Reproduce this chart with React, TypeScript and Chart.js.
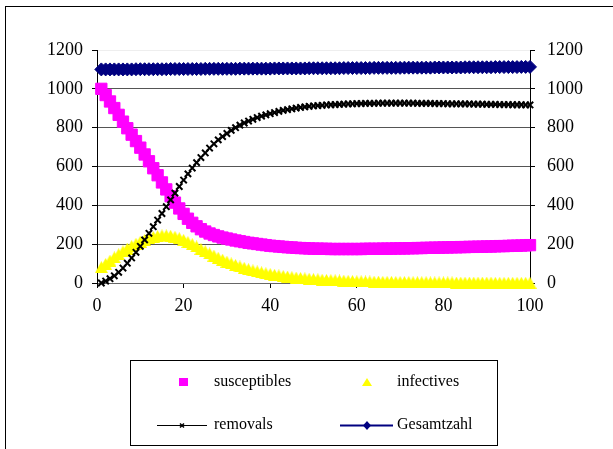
import React, { useEffect, useRef } from 'react';
import { Chart, registerables } from 'chart.js';
Chart.register(...registerables);

const timeSteps = [
  1, 2, 3, 4, 5, 6, 7, 8, 9, 10, 11, 12, 13, 14, 15, 16, 17, 18, 19, 20,
  21, 22, 23, 24, 25, 26, 27, 28, 29, 30, 31, 32, 33, 34, 35, 36, 37, 38, 39, 40,
  41, 42, 43, 44, 45, 46, 47, 48, 49, 50, 51, 52, 53, 54, 55, 56, 57, 58, 59, 60,
  61, 62, 63, 64, 65, 66, 67, 68, 69, 70, 71, 72, 73, 74, 75, 76, 77, 78, 79, 80,
  81, 82, 83, 84, 85, 86, 87, 88, 89, 90, 91, 92, 93, 94, 95, 96, 97, 98, 99, 100,
];

const susceptibles = [
  1000, 968, 935, 901, 866, 831, 797, 764, 731, 697, 662, 627, 591, 555, 518, 482, 447, 414, 384, 356,
  331, 310, 292, 277, 265, 255, 247, 240, 234, 229, 224, 219, 215, 211, 207, 204, 201, 198, 195, 192,
  190, 188, 186, 184, 183, 181, 180, 179, 178, 177, 177, 176, 176, 175, 175, 175, 175, 175, 175, 175,
  175, 176, 176, 176, 176, 177, 177, 177, 178, 178, 178, 179, 179, 180, 180, 181, 181, 182, 182, 183,
  183, 184, 184, 185, 185, 186, 186, 187, 187, 188, 188, 189, 190, 190, 191, 192, 192, 193, 194, 195,
];

const infectives = [
  82, 98, 115, 132, 148, 163, 177, 190, 202, 213, 222, 230, 237, 242, 245, 245, 243, 238, 231, 222,
  211, 200, 188, 176, 164, 152, 141, 130, 120, 110, 101, 93, 85, 78, 71, 65, 60, 55, 50, 46,
  42, 39, 36, 33, 30, 28, 26, 24, 22, 20, 19, 17, 16, 15, 14, 13, 12, 11, 10, 9,
  9, 8, 8, 7, 7, 6, 6, 6, 5, 5, 5, 5, 4, 4, 4, 4, 3, 3, 3, 3,
  3, 3, 2, 2, 2, 2, 2, 2, 2, 2, 2, 1, 1, 1, 1, 1, 1, 1, 1, 1,
];

const removals = [
  0, 10, 22, 37, 55, 77, 102, 129, 158, 189, 222, 256, 290, 324, 358, 393, 428, 463, 497, 530,
  562, 592, 620, 646, 670, 695, 717, 737, 754, 770, 786, 800, 813, 824, 834, 843, 852, 859, 866, 872,
  878, 884, 889, 893, 897, 901, 904, 907, 910, 912, 914, 915, 917, 918, 919, 920, 921, 922, 923, 924,
  924, 925, 925, 925, 926, 926, 926, 926, 926, 926, 926, 926, 926, 925, 925, 925, 925, 924, 924, 924,
  923, 923, 923, 922, 922, 922, 921, 921, 921, 920, 920, 920, 919, 919, 919, 918, 918, 918, 917, 917,
];

const gesamtzahl = [
  1100, 1100, 1100, 1100, 1100, 1100, 1100, 1100, 1101, 1101, 1101, 1101, 1101, 1101, 1101, 1101, 1102, 1102, 1102, 1102,
  1102, 1102, 1102, 1102, 1103, 1103, 1103, 1103, 1103, 1103, 1103, 1103, 1104, 1104, 1104, 1104, 1104, 1104, 1104, 1104,
  1105, 1105, 1105, 1105, 1105, 1105, 1105, 1105, 1106, 1106, 1106, 1106, 1106, 1106, 1106, 1106, 1107, 1107, 1107, 1107,
  1107, 1107, 1107, 1108, 1108, 1108, 1108, 1108, 1108, 1108, 1109, 1109, 1109, 1109, 1109, 1109, 1109, 1110, 1110, 1110,
  1110, 1110, 1110, 1110, 1111, 1111, 1111, 1111, 1111, 1111, 1111, 1112, 1112, 1112, 1112, 1112, 1112, 1113, 1113, 1113,
];

const seriesNames = ['susceptibles', 'infectives', 'removals', 'Gesamtzahl'];
const xTickValues = [0, 20, 40, 60, 80, 100];
const yTickValues = [0, 200, 400, 600, 800, 1000, 1200];

const FONT = '"Liberation Serif", "Times New Roman", serif';

function makeTriangle(w: number, h: number, color: string) {
  const c = document.createElement('canvas');
  c.width = w;
  c.height = h;
  const ctx = c.getContext('2d')!;
  ctx.fillStyle = color;
  ctx.beginPath();
  ctx.moveTo(w / 2, 0);
  ctx.lineTo(w, h);
  ctx.lineTo(0, h);
  ctx.closePath();
  ctx.fill();
  return c;
}

const pairs = (ys: number[]) => timeSteps.map((x, i) => ({ x, y: ys[i] }));

export default function App() {
  const ref = useRef<HTMLCanvasElement | null>(null);

  useEffect(() => {
    document.body.style.margin = '0';
    const canvas = ref.current!;
    const tri = makeTriangle(13, 12, '#FFFF00');
    const legendTri = makeTriangle(10, 8, '#FFFF00');

    const framePlugin = {
      id: 'framePlugin',
      beforeDraw(chart: any) {
        const ctx = chart.ctx;
        ctx.save();
        ctx.fillStyle = '#fff';
        ctx.fillRect(0, 0, chart.width, chart.height);
        ctx.strokeStyle = '#000';
        ctx.lineWidth = 1;
        ctx.strokeRect(5.5, 6.5, 800, 600);
        ctx.restore();
      },
      afterDraw(chart: any) {
        const ctx = chart.ctx;
        ctx.save();
        ctx.strokeStyle = '#000';
        ctx.lineWidth = 1;
        ctx.strokeRect(130.5, 360.5, 367, 85);
        ctx.font = '16px ' + FONT;
        ctx.fillStyle = '#000';
        ctx.textBaseline = 'middle';
        ctx.textAlign = 'left';
        const r1 = 382;
        const r2 = 425;
        // susceptibles
        ctx.fillStyle = '#FF00FF';
        ctx.fillRect(179, r1 - 4, 9, 8);
        ctx.fillStyle = '#000';
        ctx.fillText(seriesNames[0], 214, r1);
        // infectives
        ctx.drawImage(legendTri, 362, r1 - 4);
        ctx.fillStyle = '#000';
        ctx.fillText(seriesNames[1], 397, r1);
        // removals
        ctx.strokeStyle = '#000';
        ctx.lineWidth = 1;
        ctx.beginPath();
        ctx.moveTo(157, r2 + 0.5);
        ctx.lineTo(207, r2 + 0.5);
        ctx.stroke();
        ctx.lineWidth = 1.5;
        ctx.beginPath();
        ctx.moveTo(180, r2 - 1.5);
        ctx.lineTo(184, r2 + 2.5);
        ctx.moveTo(184, r2 - 1.5);
        ctx.lineTo(180, r2 + 2.5);
        ctx.stroke();
        ctx.fillText(seriesNames[2], 214, r2);
        // Gesamtzahl
        ctx.strokeStyle = '#000080';
        ctx.lineWidth = 2;
        ctx.beginPath();
        ctx.moveTo(340, r2 + 0.5);
        ctx.lineTo(393, r2 + 0.5);
        ctx.stroke();
        ctx.fillStyle = '#000080';
        ctx.beginPath();
        ctx.moveTo(367, r2 - 4);
        ctx.lineTo(371, r2 + 0.5);
        ctx.lineTo(367, r2 + 5);
        ctx.lineTo(363, r2 + 0.5);
        ctx.closePath();
        ctx.fill();
        ctx.fillStyle = '#000';
        ctx.fillText(seriesNames[3], 397, r2);
        ctx.restore();
      },
    };

    const tickFont = { family: FONT, size: 18 };

    const chart = new Chart(canvas, {
      type: 'line',
      data: {
        datasets: [
          {
            label: seriesNames[0],
            data: pairs(susceptibles),
            showLine: false,
            pointStyle: 'rect',
            pointRadius: 8,
            pointBackgroundColor: '#FF00FF',
            pointBorderColor: '#FF00FF',
            pointBorderWidth: 1,
            borderColor: '#FF00FF',
            backgroundColor: '#FF00FF',
            clip: false,
            order: 2,
          },
          {
            label: seriesNames[1],
            data: pairs(infectives),
            showLine: false,
            pointStyle: tri,
            pointRadius: 6,
            borderColor: '#FFFF00',
            backgroundColor: '#FFFF00',
            clip: false,
            order: 3,
          },
          {
            label: seriesNames[2],
            data: pairs(removals),
            borderColor: '#000',
            borderWidth: 1,
            pointStyle: 'crossRot',
            pointRadius: 4.5,
            pointBorderWidth: 2,
            pointBorderColor: '#000',
            pointBackgroundColor: '#000',
            tension: 0,
            clip: false,
            order: 0,
          },
          {
            label: seriesNames[3],
            data: pairs(gesamtzahl),
            borderColor: '#000080',
            borderWidth: 2,
            pointStyle: 'rectRot',
            pointRadius: 6.5,
            pointBorderWidth: 1,
            pointBorderColor: '#000080',
            pointBackgroundColor: '#000080',
            tension: 0,
            clip: false,
            order: 1,
          },
        ],
      },
      options: {
        responsive: false,
        animation: false,
        devicePixelRatio: 1,
        layout: { padding: { top: 50, left: 0, right: 0, bottom: 0 } },
        plugins: { legend: { display: false }, tooltip: { enabled: false } },
        scales: {
          x: {
            type: 'linear',
            min: 0,
            max: 100,
            afterBuildTicks: (s: any) => {
              s.ticks = xTickValues.map((v) => ({ value: v }));
            },
            afterFit: (s: any) => {
              s.height = 166;
            },
            ticks: {
              font: tickFont,
              color: '#000',
              padding: 7,
              maxRotation: 0,
              autoSkip: false,
              callback: (v: any) => String(v),
            },
            grid: { drawOnChartArea: false, drawTicks: true, tickLength: 5, color: '#000' },
            border: { display: true, color: '#666' },
          },
          y: {
            position: 'left',
            min: 0,
            max: 1200,
            afterBuildTicks: (s: any) => {
              s.ticks = yTickValues.map((v) => ({ value: v }));
            },
            afterFit: (s: any) => {
              s.width = 97;
            },
            ticks: {
              font: tickFont,
              color: '#000',
              padding: 9,
              autoSkip: false,
              callback: (v: any) => String(v),
            },
            grid: {
              color: (c: any) => (c.tick && c.tick.value === 1200 ? '#eeeeee' : '#555555'),
              tickColor: '#000',
              tickLength: 5,
            },
            border: { display: true, color: '#000' },
          },
          y2: {
            position: 'right',
            min: 0,
            max: 1200,
            afterBuildTicks: (s: any) => {
              s.ticks = yTickValues.map((v) => ({ value: v }));
            },
            afterFit: (s: any) => {
              s.width = 83;
            },
            ticks: {
              font: tickFont,
              color: '#000',
              padding: 12,
              autoSkip: false,
              callback: (v: any) => String(v),
            },
            grid: { drawOnChartArea: false, tickLength: 5, color: '#000' },
            border: { display: true, color: '#000' },
          },
        },
      },
      plugins: [framePlugin],
    } as any);

    return () => chart.destroy();
  }, []);

  return (
    <div style={{ width: 613, height: 449 }}>
      <canvas ref={ref} width={613} height={449} style={{ display: 'block' }} />
    </div>
  );
}
